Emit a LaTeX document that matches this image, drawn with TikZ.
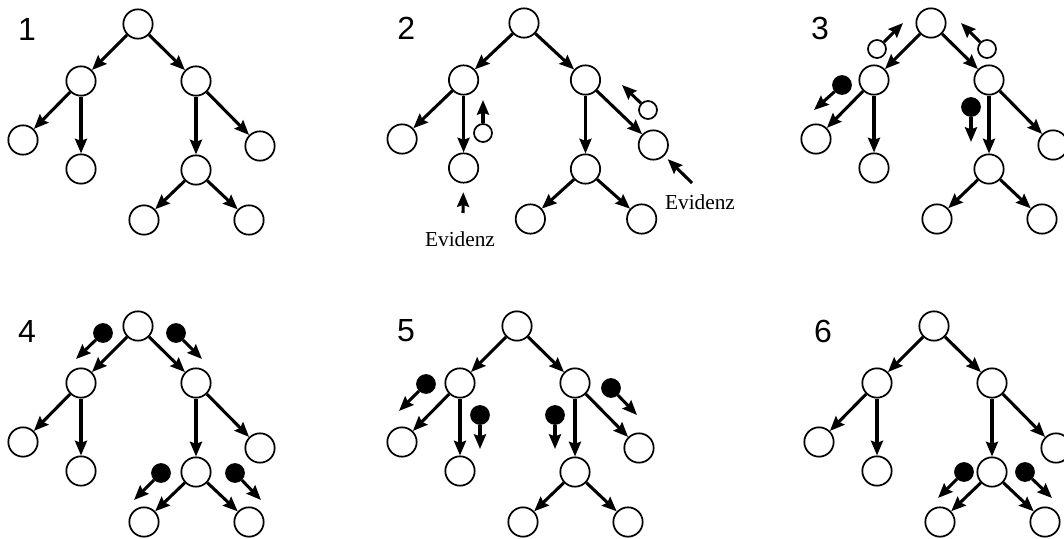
\documentclass[tikz,border=0pt]{standalone}
\usepackage{fontspec}
\setmainfont{Liberation Serif}
\newfontfamily\panelfont{Liberation Sans}
\usetikzlibrary{arrows.meta}

\tikzset{
	knot/.style={circle, draw, line width=1.3pt, minimum size=22pt, inner sep=0pt},
	msgopen/.style={circle, draw, line width=1.3pt, minimum size=13.5pt, inner sep=0pt},
	msgfull/.style={msgopen, fill=black},
	link/.style={line width=2.3pt, -{Stealth[length=11pt, width=9pt, inset=1.5pt]}},
	panellabel/.style={font=\panelfont\fontsize{24}{28}\selectfont},
	evidlabel/.style={font=\fontsize{16}{19}\selectfont}}
\tikzset{every picture/.style={line width=0.75pt}}

\begin{document}
\begin{tikzpicture}[x=0.75pt,y=0.75pt,yscale=-1,xscale=1]
	\useasboundingbox (0,0) rectangle (1064,539);

	%Trees: panel / root x / root y / spread
	\foreach \p/\x/\y/\s in {1/138/24/1, 2/524/23/1.06, 3/931/23/1, 4/138/326/1, 5/517/326/1, 6/934/326/1}{
		% Text Node
		\node[panellabel] (lab\p) at ({\x-111*\s},{\y+5}) {\p};
		%Shape: Circles
		\node[knot] (p\p a) at (\x,\y) {};
		\node[knot] (p\p b) at ({\x-57*\s},{\y+57}) {};
		\node[knot] (p\p c) at ({\x+58*\s},{\y+57}) {};
		\node[knot] (p\p d) at ({\x-115*\s},{\y+116}) {};
		\node[knot] (p\p e) at ({\x-57*\s},{\y+145}) {};
		\node[knot] (p\p f) at ({\x+58*\s},{\y+146}) {};
		\node[knot] (p\p g) at ({\x+122*\s},{\y+122}) {};
		\node[knot] (p\p h) at ({\x+6*\s},{\y+196}) {};
		\node[knot] (p\p i) at ({\x+111*\s},{\y+196}) {};
		%Straight Lines
		\draw[link] (p\p a) -- (p\p b);
		\draw[link] (p\p a) -- (p\p c);
		\draw[link] (p\p b) -- (p\p d);
		\draw[link] (p\p b) -- (p\p e);
		\draw[link] (p\p c) -- (p\p f);
		\draw[link] (p\p c) -- (p\p g);
		\draw[link] (p\p f) -- (p\p h);
		\draw[link] (p\p f) -- (p\p i);
	}

	%Panel 2: evidence and messages
	\node[msgopen] (m2a) at (483,133) {};
	\coordinate (t2a) at (483,100);
	\draw[link] (m2a) -- (t2a);
	\node[msgopen] (m2b) at (648,110) {};
	\coordinate (t2b) at (622,85);
	\draw[link] (m2b) -- (t2b);
	% Text Node
	\node[evidlabel] (ev1) at (460,239) {Evidenz};
	\coordinate (e1) at (463,213);
	\draw[link, shorten >=6.5pt] (e1) -- (p2e);
	% Text Node
	\node[evidlabel] (ev2) at (700,202) {Evidenz};
	\coordinate (e2) at (692,183);
	\draw[link, shorten >=3.5pt] (e2) -- (p2g);

	%Panel 3
	\node[msgopen] (m3a) at (877,49) {};
	\coordinate (t3a) at (903,23);
	\draw[link] (m3a) -- (t3a);
	\node[msgopen] (m3b) at (987,49) {};
	\coordinate (t3b) at (961,23);
	\draw[link] (m3b) -- (t3b);
	\node[msgfull] (m3c) at (842,85) {};
	\coordinate (t3c) at (814,110);
	\draw[link] (m3c) -- (t3c);
	\node[msgfull] (m3d) at (971,107) {};
	\coordinate (t3d) at (971,142);
	\draw[link] (m3d) -- (t3d);

	%Panel 4
	\node[msgfull] (m4a) at (103,333) {};
	\coordinate (t4a) at (76,359);
	\draw[link] (m4a) -- (t4a);
	\node[msgfull] (m4b) at (176,333) {};
	\coordinate (t4b) at (202,359);
	\draw[link] (m4b) -- (t4b);
	\node[msgfull] (m4c) at (161,473) {};
	\coordinate (t4c) at (134,500);
	\draw[link] (m4c) -- (t4c);
	\node[msgfull] (m4d) at (235,473) {};
	\coordinate (t4d) at (261,500);
	\draw[link] (m4d) -- (t4d);

	%Panel 5
	\node[msgfull] (m5a) at (426,384) {};
	\coordinate (t5a) at (399,411);
	\draw[link] (m5a) -- (t5a);
	\node[msgfull] (m5b) at (480,415) {};
	\coordinate (t5b) at (480,449);
	\draw[link] (m5b) -- (t5b);
	\node[msgfull] (m5c) at (555,415) {};
	\coordinate (t5c) at (555,449);
	\draw[link] (m5c) -- (t5c);
	\node[msgfull] (m5d) at (611,388) {};
	\coordinate (t5d) at (637,415);
	\draw[link] (m5d) -- (t5d);

	%Panel 6
	\node[msgfull] (m6a) at (964,472) {};
	\coordinate (t6a) at (938,498);
	\draw[link] (m6a) -- (t6a);
	\node[msgfull] (m6b) at (1025,472) {};
	\coordinate (t6b) at (1052,498);
	\draw[link] (m6b) -- (t6b);

\end{tikzpicture}
\end{document}
